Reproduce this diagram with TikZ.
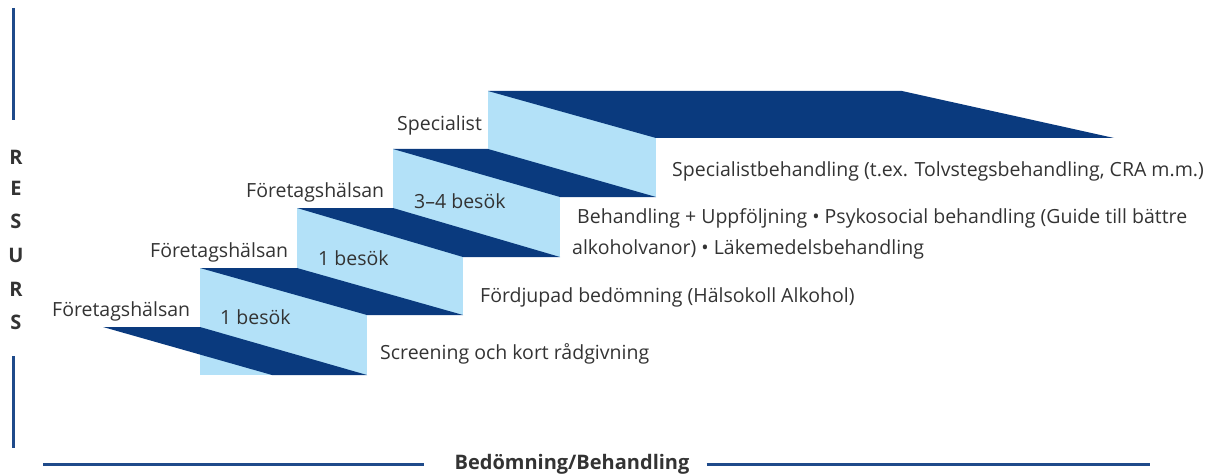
\documentclass[tikz,border=0pt]{standalone}
\usepackage{fontspec}
\setmainfont{Open Sans}
\definecolor{darkblue}{HTML}{0A3A7E}
\definecolor{lightblue}{HTML}{B3E1F8}
\definecolor{txt}{HTML}{333333}
\definecolor{axisblue}{HTML}{1F4A8A}
\begin{document}
\begin{tikzpicture}[x=1pt,y=-1pt,
  lbl/.style={font=\fontsize{19.5}{22}\selectfont, text=txt, inner sep=0pt, anchor=base west},
  res/.style={font=\fontsize{20}{22}\selectfont\bfseries, text=txt, inner sep=0pt, anchor=center},
  riser/.style={fill=lightblue},
  tread/.style={fill=darkblue},
  axis/.style={draw=axisblue, line width=3pt}]
\useasboundingbox (0,0) rectangle (1218,476);
% risers
\fill[riser] (200,268) rectangle (367,375);
\fill[riser] (297,208) rectangle (463,315);
\fill[riser] (393,149) rectangle (560,257);
\fill[riser] (488,91) rectangle (656,197);
% treads
\fill[tread] (103,327) -- (200,327) -- (367,375) -- (272,375) -- cycle;
\fill[tread] (200,268) -- (297,268) -- (463,315) -- (367,315) -- cycle;
\fill[tread] (297,208) -- (393,208) -- (560,257) -- (463,257) -- cycle;
\fill[tread] (393,149) -- (488,149) -- (656,197) -- (560,197) -- cycle;
\fill[tread] (488,91) -- (902,91) -- (1114,138) -- (656,138) -- cycle;
% labels
\node[lbl] (f1) at (52,316) {Företagshälsan};
\node[lbl] (f2) at (150,257) {Företagshälsan};
\node[lbl] (f3) at (246,197) {Företagshälsan};
\node[lbl] (sp) at (397,131) {Specialist};
\node[lbl] (b1) at (220,324) {1 besök};
\node[lbl] (b2) at (318,265) {1 besök};
\node[lbl] (b3) at (414,208) {3–4 besök};
\node[lbl] (d5) at (672,176) {Specialistbehandling (t.ex. Tolvstegsbehandling, CRA m.m.)};
\node[lbl] (d4a) at (577,223) {Behandling + Uppföljning • Psykosocial behandling (Guide till bättre};
\node[lbl] (d4b) at (572,254) {alkoholvanor) • Läkemedelsbehandling};
\node[lbl] (d2) at (480,302) {Fördjupad bedömning (Hälsokoll Alkohol)};
\node[lbl] (d1) at (380,359) {Screening och kort rådgivning};
% RESURS
\node[res] (r1) at (16,157) {R};
\node[res] (r2) at (16,188) {E};
\node[res] (r3) at (16,221) {S};
\node[res] (r4) at (16,255) {U};
\node[res] (r5) at (16,289) {R};
\node[res] (r6) at (16,322) {S};
\coordinate (vt1) at (13,8);
\coordinate (vt2) at (13,120);
\coordinate (vb1) at (13,356);
\coordinate (vb2) at (13,448);
\draw[axis] (vt1) -- (vt2);
\draw[axis] (vb1) -- (vb2);
% bottom axis
\node[res] (bb) at (572,464) {Bedömning/Behandling};
\coordinate (hl) at (43,464);
\coordinate (hr) at (1150,464);
\draw[axis] (hl) -- ([xshift=-30pt]bb.west |- hl);
\draw[axis] ([xshift=17pt]bb.east |- hr) -- (hr);
\end{tikzpicture}
\end{document}
